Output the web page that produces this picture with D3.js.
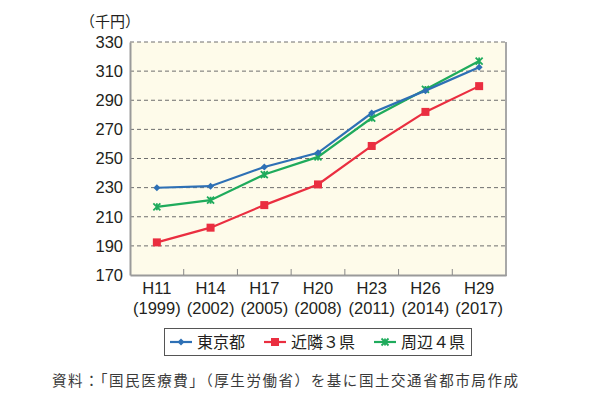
<!DOCTYPE html>
<html><head><meta charset="utf-8">
<script src="https://cdn.jsdelivr.net/npm/d3@7"></script>
<style>body{margin:0;background:#fff;}svg{display:block;}</style>
</head><body>
<svg id="c" width="594" height="397"></svg>
<script>
const categories = ["H11","H14","H17","H20","H23","H26","H29"];
const years = ["(1999)","(2002)","(2005)","(2008)","(2011)","(2014)","(2017)"];
const tokyo = [229.9, 231.0, 244.2, 253.9, 281.2, 296.6, 312.7];
const kinrin3 = [192.4, 202.5, 218.0, 232.2, 258.6, 282.0, 299.7];
const shuhen4 = [216.8, 221.4, 239.0, 251.1, 277.8, 297.4, 316.9];
const yTicks = [170,190,210,230,250,270,290,310,330];
const seriesNames = ["東京都","近隣３県","周辺４県"];
const seriesColors = ["#2e70b5","#ea2e40","#1fab5c"];

const svg = d3.select("#c");
const L=130, R=506, T=42, B=275;
const x = d3.scaleBand().domain(categories).range([L,R]);
const y = d3.scaleLinear().domain([170,330]).range([B,T]);

svg.append("rect").attr("x",L).attr("y",T).attr("width",R-L).attr("height",B-T).attr("fill","#fefbea");

// grid
svg.append("g").selectAll("line").data(yTicks.filter(d=>d>170)).join("line")
  .attr("x1",L).attr("x2",R).attr("y1",d=>y(d)).attr("y2",d=>y(d))
  .attr("stroke","#6e6e6e").attr("stroke-width",1).attr("stroke-dasharray","4,3");

// right border
svg.append("line").attr("x1",R).attr("x2",R).attr("y1",T).attr("y2",B+1).attr("stroke","#a8a8a8").attr("stroke-width",2);

// y axis
const ya = svg.append("g").attr("transform",`translate(${L},0)`)
  .call(d3.axisLeft(y).tickValues(yTicks).tickSize(0).tickPadding(7));
ya.select(".domain").attr("stroke","#9a9a9a").attr("stroke-width",2);
ya.selectAll("text").attr("font-family","Liberation Sans, Arial, sans-serif").attr("font-size",16.5).attr("fill","#231f20");

// x axis
const xa = svg.append("g").attr("transform",`translate(0,${B})`)
  .call(d3.axisBottom(x).tickSize(0).tickFormat(""));
xa.select(".domain").attr("stroke","#9a9a9a").attr("stroke-width",2);
svg.append("g").selectAll("line").data(categories.slice(1)).join("line")
  .attr("x1",d=>x(d)).attr("x2",d=>x(d)).attr("y1",B).attr("y2",B-6)
  .attr("stroke","#888").attr("stroke-width",1);
const xl = svg.append("g").selectAll("g").data(categories).join("g")
  .attr("transform",d=>`translate(${x(d)+x.bandwidth()/2},0)`);
xl.append("text").attr("y",294).attr("text-anchor","middle").text(d=>d)
  .attr("font-family","Liberation Sans, Arial, sans-serif").attr("font-size",16.5).attr("fill","#231f20");
xl.append("text").attr("y",314).attr("text-anchor","middle").text((d,i)=>years[i])
  .attr("font-family","Liberation Sans, Arial, sans-serif").attr("font-size",16.5).attr("fill","#231f20");

// unit
svg.append("text").attr("x",80).attr("y",27).text("（千円）")
  .attr("font-family","Noto Sans CJK JP").attr("font-size",15).attr("fill","#231f20");

const line = d3.line().x((d,i)=>x(categories[i])+x.bandwidth()/2).y(d=>y(d));
const data = [tokyo,kinrin3,shuhen4];

function marker(g, type, color, cx, cy){
  if(type===0){
    g.append("path").attr("d",`M${cx},${cy-3.5}L${cx+3.5},${cy}L${cx},${cy+3.5}L${cx-3.5},${cy}Z`).attr("fill",color);
  } else if(type===1){
    g.append("rect").attr("x",cx-4).attr("y",cy-4).attr("width",8).attr("height",8).attr("fill",color);
  } else {
    g.append("path").attr("d",`M${cx-3.5},${cy-3.5}L${cx+3.5},${cy+3.5}M${cx+3.5},${cy-3.5}L${cx-3.5},${cy+3.5}M${cx},${cy-3.5}L${cx},${cy+3.5}`)
      .attr("stroke",color).attr("stroke-width",1.8).attr("fill","none");
  }
}
const order=[1,2,0];
order.forEach(s=>{
  svg.append("path").datum(data[s]).attr("d",line).attr("fill","none").attr("stroke",seriesColors[s]).attr("stroke-width",2.2);
  const g=svg.append("g");
  data[s].forEach((v,i)=>marker(g,s,seriesColors[s],x(categories[i])+x.bandwidth()/2,y(v)));
});

// legend
svg.append("rect").attr("x",164.5).attr("y",328.5).attr("width",307).attr("height",27).attr("fill","#fff").attr("stroke","#555").attr("stroke-width",1);
const lx=[170,264,374];
const tx=[197,291,401];
seriesNames.forEach((n,s)=>{
  svg.append("line").attr("x1",lx[s]).attr("x2",lx[s]+22).attr("y1",342).attr("y2",342).attr("stroke",seriesColors[s]).attr("stroke-width",2.2);
  const g=svg.append("g");
  marker(g,s,seriesColors[s],lx[s]+11,342);
  svg.append("text").attr("x",tx[s]).attr("y",348).text(n)
    .attr("font-family","Noto Sans CJK JP").attr("font-size",16).attr("fill","#231f20");
});

svg.append("text").attr("x",52).attr("y",386).text("資料：「国民医療費」（厚生労働省）を基に国土交通省都市局作成")
  .attr("font-family","Noto Sans CJK JP").attr("font-size",14.5).attr("fill","#3a3a3a")
  .attr("textLength",466).attr("lengthAdjust","spacing");
</script>
</body></html>
